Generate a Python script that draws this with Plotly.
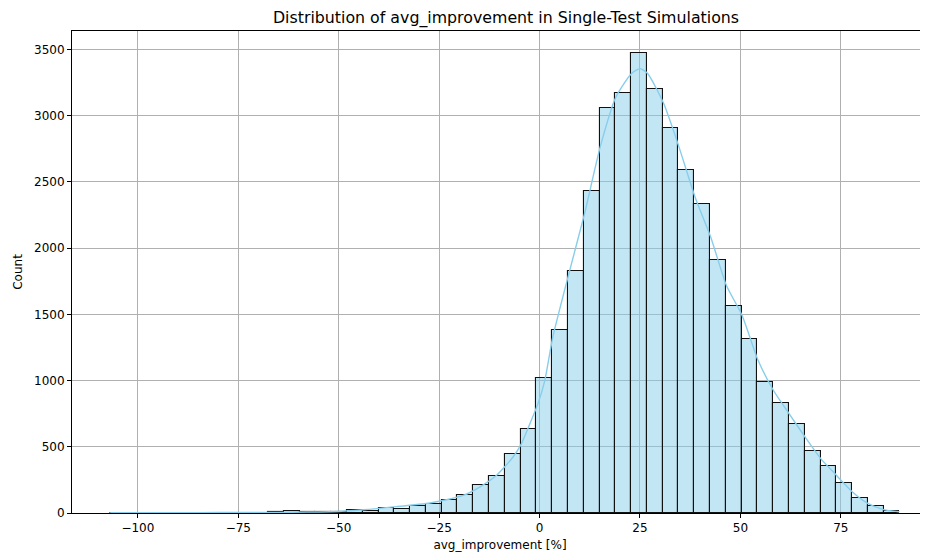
import numpy as np
import plotly.graph_objects as go

# Histogram bins (50 equal-width bins)
bin_left = -106.9
bin_width = 3.93
counts = [3, 1, 1, 0, 0, 0, 1, 3, 2, 3,
          4, 12, 4, 6, 10, 20, 18, 41, 33, 51,
          71, 96, 136, 212, 282, 446, 636, 1020, 1385, 1831,
          2435, 3057, 3175, 3472, 3200, 2908, 2591, 2337, 1911, 1566,
          1314, 992, 829, 675, 468, 353, 227, 113, 53, 18]

# KDE curve
kde_x = [-106.9, -95, -85, -75, -65, -58, -52.2, -43.9, -35.6, -27.3, -23.2, -19.0,
         -14.9, -10.7, -6.6, -4.5, -2.4, -0.4, 1.3, 3.3, 7.3, 11.2, 15.1, 19.0,
         22.9, 25.0, 26.9, 30.9, 34.7, 38.7, 42.6, 46.5, 50.4, 54.4, 58.2, 62.1,
         66.1, 70.0, 73.9, 77.9, 81.8, 85.7, 89.6]
kde_y = [2, 2, 3, 4, 5, 7, 9, 24, 48, 76, 100, 133,
         196, 285, 423, 524, 675, 826, 1000, 1329, 1808, 2261, 2765, 3142,
         3319, 3356, 3319, 3092, 2765, 2387, 2085, 1720, 1493, 1153, 927, 751,
         574, 411, 285, 159, 71, 26, 10]

x_ticks = [-100, -75, -50, -25, 0, 25, 50, 75]
y_ticks = [0, 500, 1000, 1500, 2000, 2500, 3000, 3500]

title = "Distribution of avg_improvement in Single-Test Simulations"
x_label = "avg_improvement [%]"
y_label = "Count"

centers = bin_left + bin_width * (np.arange(len(counts)) + 0.5)

FONT = "DejaVu Sans"
# the page body adds an 8px offset; the figure is sized to fill the rest of the window
PAD = 8

fig = go.Figure()
fig.add_trace(go.Bar(
    x=centers, y=counts, width=bin_width,
    marker=dict(color="rgba(135,206,235,0.5)",
                line=dict(color="#111111", width=1.1)),
    showlegend=False, hoverinfo="x+y",
))
fig.add_trace(go.Scatter(
    x=kde_x, y=kde_y, mode="lines",
    line=dict(color="#87ceeb", width=1.4, shape="spline", smoothing=0.6),
    showlegend=False,
))

fig.update_layout(
    width=928 - PAD, height=555 - PAD,
    margin=dict(l=72 - PAD, r=0, t=31 - PAD, b=42),
    paper_bgcolor="white", plot_bgcolor="white",
    font=dict(family=FONT, size=12, color="black"),
    title=dict(text=title, x=(506 - PAD) / (928 - PAD), xanchor="center",
               y=1 - (17 - PAD) / (555 - PAD), yanchor="middle", yref="container",
               font=dict(family=FONT, size=15.8, color="black")),
    bargap=0,
)
fig.update_xaxes(
    range=[-116.4, 96.7], tickvals=x_ticks,
    ticktext=[("\u2212" + str(-v)) if v < 0 else str(v) for v in x_ticks],
    showgrid=True, gridcolor="#b0b0b0", gridwidth=1,
    showline=True, linecolor="black", linewidth=1, mirror=True,
    ticks="outside", ticklen=4, tickcolor="black", tickwidth=1,
    zeroline=False, automargin=False,
    title=dict(text=x_label, standoff=6, font=dict(size=12)),
)
fig.update_yaxes(
    range=[0, 3640], tickvals=y_ticks,
    showgrid=True, gridcolor="#b0b0b0", gridwidth=1,
    showline=True, linecolor="black", linewidth=1,
    ticks="outside", ticklen=4, tickcolor="black", tickwidth=1,
    zeroline=False, automargin=False,
    title=dict(text=y_label, standoff=8, font=dict(size=12)),
)

fig.write_html("out.html")
